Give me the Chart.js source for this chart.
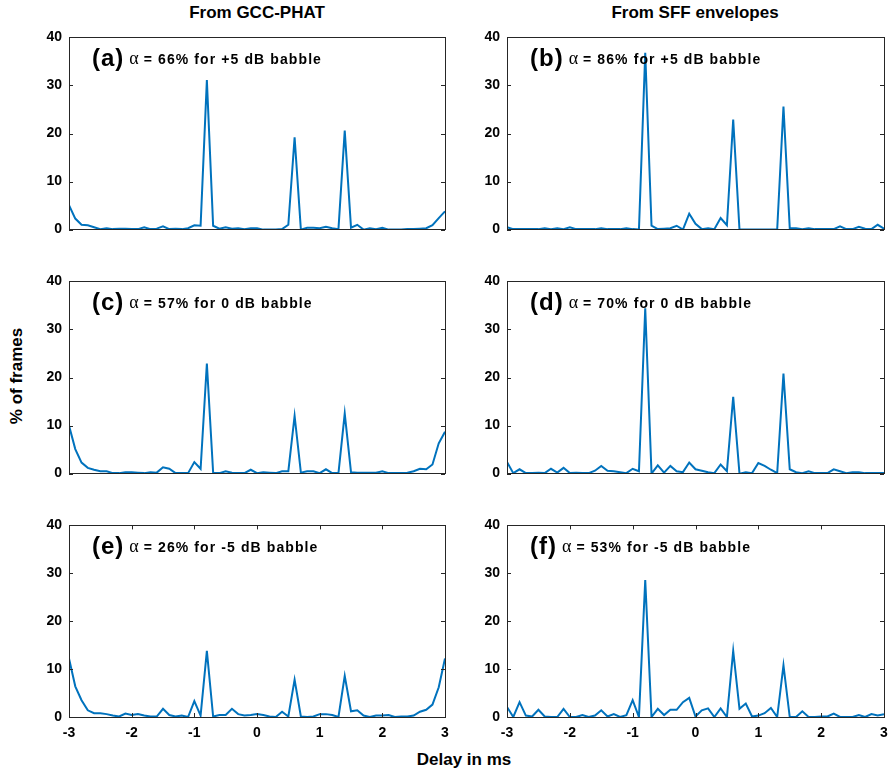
<!DOCTYPE html>
<html lang="en">
<head>
<meta charset="UTF-8">
<title>Delay histograms</title>
<script src="https://cdn.jsdelivr.net/npm/chart.js"></script>
<style>
  body { margin: 0; width: 890px; height: 773px; background: #fff; position: relative; overflow: hidden;
         font-family: "Liberation Sans", Arial, sans-serif; }
  canvas { position: absolute; }
  .lbl { position: absolute; font-weight: bold; color: #000; white-space: nowrap; transform: translate(-50%, -50%); }
</style>
</head>
<body>
<div class="lbl" style="left:257px; top:13px; font-size:17px;">From GCC-PHAT</div>
<div class="lbl" style="left:695px; top:13px; font-size:17px;">From SFF envelopes</div>
<div class="lbl" style="left:17px; top:376px; font-size:17px; transform: translate(-50%, -50%) rotate(-90deg);">% of frames</div>
<div class="lbl" style="left:464px; top:760px; font-size:17px;">Delay in ms</div>

<canvas id="pa" width="421" height="223" style="left:29px; top:22px;"></canvas>
<canvas id="pb" width="422" height="223" style="left:467px; top:22px;"></canvas>
<canvas id="pc" width="421" height="223" style="left:29px; top:266px;"></canvas>
<canvas id="pd" width="422" height="223" style="left:467px; top:266px;"></canvas>
<canvas id="pe" width="421" height="233" style="left:29px; top:510px;"></canvas>
<canvas id="pf" width="422" height="233" style="left:467px; top:510px;"></canvas>

<script>
// delay axis (ms)
const delays = [-3.0, -2.9, -2.8, -2.7, -2.6, -2.5, -2.4, -2.3, -2.2, -2.1,
                -2.0, -1.9, -1.8, -1.7, -1.6, -1.5, -1.4, -1.3, -1.2, -1.1,
                -1.0, -0.9, -0.8, -0.7, -0.6, -0.5, -0.4, -0.3, -0.2, -0.1,
                 0.0,  0.1,  0.2,  0.3,  0.4,  0.5,  0.6,  0.7,  0.8,  0.9,
                 1.0,  1.1,  1.2,  1.3,  1.4,  1.5,  1.6,  1.7,  1.8,  1.9,
                 2.0,  2.1,  2.2,  2.3,  2.4,  2.5,  2.6,  2.7,  2.8,  2.9,  3.0];

// % of frames per delay
const gcc_p5 = [5.1, 2.3, 1.0, 0.9, 0.5, 0.1, 0.3, 0.1, 0.2, 0.2,
                0.1, 0.1, 0.5, 0.1, 0.2, 0.7, 0.1, 0.2, 0.1, 0.3,
                0.9, 0.8, 31.1, 0.8, 0.2, 0.5, 0.2, 0.3, 0.1, 0.3,
                0.3, 0, 0, 0, 0.1, 1.0, 19.2, 0, 0.4, 0.4,
                0.3, 0.6, 0.3, 0.1, 20.6, 0.4, 1.0, 0, 0.3, 0.1,
                0.4, 0, 0, 0, 0.1, 0.1, 0.2, 0.3, 0.9, 2.4, 3.8];
const sff_p5 = [0.5, 0.1, 0.1, 0.1, 0.1, 0.1, 0.3, 0.1, 0.3, 0.1,
                0.5, 0.1, 0.1, 0.1, 0.1, 0.3, 0.1, 0.1, 0.1, 0.3,
                0.1, 0, 36.8, 0.8, 0.1, 0.2, 0.3, 0.8, 0, 3.3,
                1.2, 0.1, 0.3, 0.1, 2.4, 0.9, 22.9, 0, 0, 0,
                0, 0, 0, 0, 25.6, 0.3, 0.3, 0.1, 0.3, 0.1,
                0.1, 0.1, 0.1, 0.7, 0.1, 0.1, 0.6, 0.2, 0.1, 1.0, 0.2];
const gcc_0  = [10.0, 5.1, 2.3, 1.2, 0.8, 0.5, 0.5, 0.1, 0.1, 0.3,
                0.3, 0.2, 0.1, 0.3, 0.2, 1.3, 1.0, 0.1, 0.1, 0.1,
                2.4, 1.0, 22.9, 0.2, 0.1, 0.5, 0.2, 0.1, 0.1, 0.8,
                0.1, 0.3, 0.2, 0.1, 0.5, 0.5, 12.0, 0.2, 0.5, 0.5,
                0.1, 0.9, 0.1, 0.1, 12.5, 0.3, 0.2, 0.2, 0.2, 0.2,
                0.5, 0.1, 0.1, 0.1, 0.2, 0.5, 1.0, 0.9, 1.9, 6.3, 8.7];
const sff_0  = [2.4, 0.1, 0.9, 0.1, 0.1, 0.2, 0.1, 1.0, 0.2, 1.2,
                0.1, 0.2, 0.1, 0.1, 0.6, 1.6, 0.6, 0.5, 0.3, 0.1,
                1.0, 0.5, 34.4, 0, 1.7, 0.2, 1.6, 0.5, 0.3, 2.3,
                0.9, 0.6, 0.3, 0.1, 1.9, 0.5, 16.0, 0, 0.3, 0.1,
                2.2, 1.6, 0.8, 0.1, 20.8, 0.9, 0.3, 0.1, 0.5, 0.1,
                0.1, 0.1, 0.9, 0.5, 0.1, 0.3, 0.3, 0.1, 0.1, 0.1, 0.1];
const gcc_m5 = [12.2, 6.4, 3.5, 1.4, 0.8, 0.8, 0.6, 0.3, 0.1, 0.7,
                0.4, 0.6, 0.3, 0.1, 0.1, 1.7, 0.4, 0.1, 0.3, 0,
                3.3, 0.3, 13.8, 0.1, 0.4, 0.4, 1.7, 0.6, 0.3, 0.4,
                0.6, 0.4, 0.1, 0, 1.1, 0.1, 7.8, 0.1, 0, 0.1,
                0.6, 0.6, 0.4, 0, 8.6, 1.2, 1.4, 0.3, 0, 0.3,
                0.3, 0.4, 0, 0.1, 0.1, 0.3, 1.1, 1.5, 2.6, 6.2, 12.2];
const sff_m5 = [2.1, 0, 3.1, 0.3, 0.1, 1.5, 0.1, 0, 0, 1.7,
                0, 0, 0.4, 0, 0.3, 1.4, 0.1, 0.6, 0, 0.4,
                3.5, 0, 28.6, 0, 1.7, 0.4, 1.5, 1.5, 3.1, 4.0,
                0.1, 1.4, 1.8, 0, 1.8, 0, 13.8, 1.7, 2.8, 0.1,
                0.3, 0.8, 1.9, 0, 10.8, 0, 0, 1.2, 0, 0,
                0.1, 0.1, 0.7, 0, 0, 0, 0.4, 0, 0.6, 0.3, 0.6];

const panel_tags  = ['(a)', '(b)', '(c)', '(d)', '(e)', '(f)'];
const panel_notes = ['= 66% for +5 dB babble', '= 86% for +5 dB babble',
                     '= 57% for 0 dB babble',  '= 70% for 0 dB babble',
                     '= 26% for -5 dB babble', '= 53% for -5 dB babble'];

const tickFont = { family: '"Liberation Sans", Arial, sans-serif', size: 14, weight: 'bold' };

// box, inward ticks and the panel caption
const panelPlugin = {
  id: 'panelNote',
  afterDatasetsDraw(chart, args, opts) {
    const ctx = chart.ctx;
    const a = chart.chartArea;
    const ys = chart.scales.y, xs = chart.scales.x;
    ctx.save();
    ctx.strokeStyle = '#262626';
    ctx.lineWidth = 1;
    ctx.strokeRect(Math.round(a.left) + 0.5, Math.round(a.top) + 0.5,
                   Math.round(a.right - a.left), Math.round(a.bottom - a.top));
    ctx.beginPath();
    ys.ticks.forEach(t => {
      const y = Math.round(ys.getPixelForValue(t.value)) + 0.5;
      ctx.moveTo(a.left, y); ctx.lineTo(a.left + 4, y);
      ctx.moveTo(a.right, y); ctx.lineTo(a.right - 4, y);
    });
    if (opts.xTicks) {
      xs.ticks.forEach(t => {
        const x = Math.round(xs.getPixelForValue(t.value)) + 0.5;
        ctx.moveTo(x, a.bottom); ctx.lineTo(x, a.bottom - 4);
        ctx.moveTo(x, a.top); ctx.lineTo(x, a.top + 4);
      });
    }
    ctx.stroke();

    ctx.fillStyle = '#000';
    ctx.textBaseline = 'alphabetic';
    const base = a.top + 29;
    let x = a.left + 23;
    ctx.font = 'bold 24px "Liberation Sans", Arial, sans-serif';
    ctx.letterSpacing = '1px';
    ctx.fillText(opts.tag, x, base);
    x += ctx.measureText(opts.tag).width + 5;
    ctx.letterSpacing = '0px';
    ctx.font = '18px "Liberation Serif", serif';
    ctx.fillText('\u03B1', x, base - 2);
    x += ctx.measureText('\u03B1').width + 5;
    ctx.font = 'bold 14px "Liberation Sans", Arial, sans-serif';
    ctx.letterSpacing = '1.1px';
    ctx.fillText(opts.note, x, base - 2);
    ctx.restore();
  }
};

function makePanel(id, values, idx, showX) {
  const points = values.map((v, i) => ({ x: delays[i], y: v }));
  new Chart(document.getElementById(id), {
    type: 'line',
    data: {
      datasets: [{
        data: points,
        borderColor: '#0072BD',
        borderWidth: 2,
        pointRadius: 0,
        tension: 0,
        fill: false
      }]
    },
    options: {
      responsive: false,
      animation: false,
      layout: { padding: { top: 10, right: 5, bottom: showX ? 0 : 4, left: 0 } },
      plugins: {
        legend: { display: false },
        tooltip: { enabled: false },
        panelNote: { tag: panel_tags[idx], note: panel_notes[idx], xTicks: showX }
      },
      scales: {
        x: {
          type: 'linear', min: -3, max: 3, display: showX,
          grid: { display: false, drawTicks: false }, border: { display: false },
          ticks: { stepSize: 1, font: tickFont, color: '#000', padding: 8 },
          afterFit: s => { s.height = showX ? 26 : 0; s.paddingLeft = 0; s.paddingRight = 0; }
        },
        y: {
          min: 0, max: 40,
          grid: { display: false, drawTicks: false }, border: { display: false },
          ticks: { stepSize: 10, font: tickFont, color: '#000', padding: 7 },
          afterFit: s => { s.width = 40; }
        }
      }
    },
    plugins: [panelPlugin]
  });
}

makePanel('pa', gcc_p5, 0, false);
makePanel('pb', sff_p5, 1, false);
makePanel('pc', gcc_0, 2, false);
makePanel('pd', sff_0, 3, false);
makePanel('pe', gcc_m5, 4, true);
makePanel('pf', sff_m5, 5, true);
</script>
</body>
</html>
